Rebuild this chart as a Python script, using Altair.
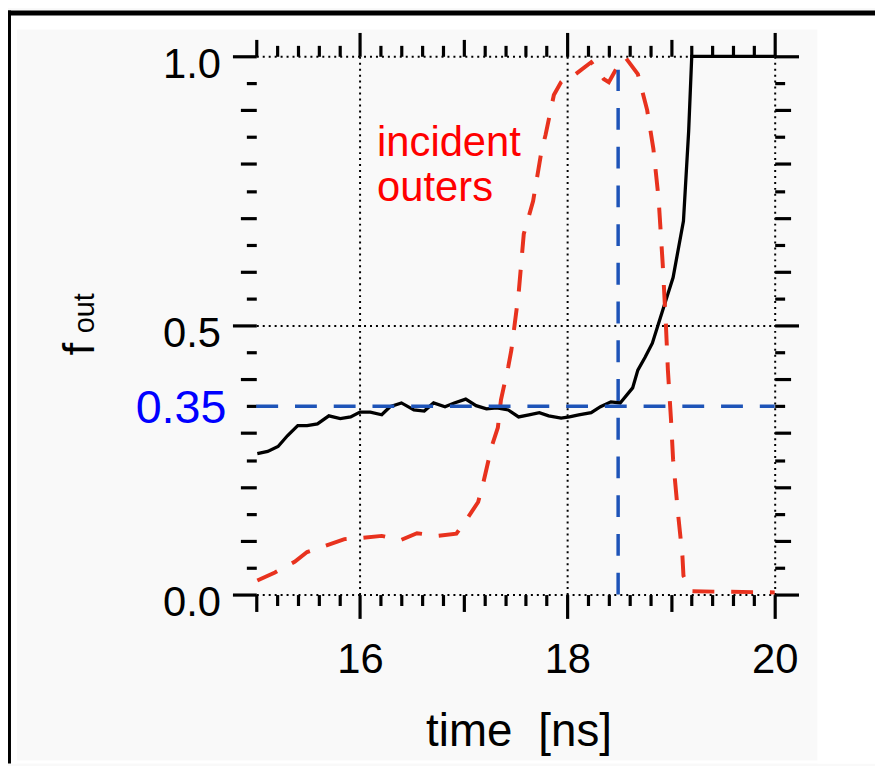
import altair as alt
import pandas as pd

# ---------------- data ----------------
black_t = [15.01, 15.11, 15.21, 15.30, 15.40, 15.49, 15.59, 15.70, 15.81, 15.91,
           16.00, 16.10, 16.21, 16.29, 16.40, 16.52, 16.62, 16.71, 16.82, 16.91,
           17.02, 17.12, 17.22, 17.32, 17.43, 17.53, 17.63, 17.73, 17.82, 17.94,
           18.02, 18.11, 18.23, 18.32, 18.42, 18.51, 18.63, 18.68, 18.75, 18.82,
           18.92, 19.02, 19.12, 19.17, 19.20, 20.00]
black_f = [0.262, 0.266, 0.275, 0.295, 0.314, 0.314, 0.317, 0.332, 0.327, 0.330,
           0.339, 0.339, 0.334, 0.349, 0.356, 0.343, 0.341, 0.356, 0.349, 0.356,
           0.363, 0.351, 0.345, 0.347, 0.343, 0.330, 0.334, 0.338, 0.332, 0.328,
           0.330, 0.334, 0.338, 0.349, 0.358, 0.356, 0.384, 0.417, 0.441, 0.467,
           0.528, 0.589, 0.694, 0.860, 1.000, 1.000]

red_t = [15.01, 15.18, 15.37, 15.49, 15.66, 15.85, 16.00, 16.21, 16.39, 16.55,
         16.74, 16.93, 17.03, 17.14, 17.19, 17.27, 17.33, 17.36, 17.43, 17.46,
         17.53, 17.58, 17.67, 17.75, 17.79, 17.87, 17.94, 18.02, 18.08, 18.23,
         18.35, 18.40, 18.47, 18.56, 18.68, 18.77, 18.83, 18.88, 18.92, 18.95,
         18.97, 19.00, 19.02, 19.07, 19.11, 19.12, 19.20, 20.00]
red_f = [0.026, 0.041, 0.061, 0.079, 0.090, 0.103, 0.105, 0.109, 0.101, 0.114,
         0.109, 0.113, 0.140, 0.172, 0.208, 0.275, 0.310, 0.362, 0.423, 0.454,
         0.559, 0.670, 0.731, 0.823, 0.854, 0.928, 0.952, 0.965, 0.967, 0.989,
         0.958, 0.952, 0.976, 0.998, 0.967, 0.900, 0.828, 0.736, 0.614, 0.504,
         0.417, 0.325, 0.251, 0.146, 0.072, 0.035, 0.006, 0.004]

threshold_f = 0.35
threshold_t = 18.49
threshold_top = 0.975
threshold_label = ["0.35"]

label_t = [16.165, 16.165]
label_f = [0.814, 0.731]
label_text = ["incident", "outers"]

x_ticks = [15.0, 15.2, 15.4, 15.6, 15.8, 16.0, 16.2, 16.4, 16.6, 16.8,
           17.0, 17.2, 17.4, 17.6, 17.8, 18.0, 18.2, 18.4, 18.6, 18.8,
           19.0, 19.2, 19.4, 19.6, 19.8, 20.0]
y_ticks = [0.0, 0.05, 0.1, 0.15, 0.2, 0.25, 0.3, 0.35, 0.4, 0.45, 0.5,
           0.55, 0.6, 0.65, 0.7, 0.75, 0.8, 0.85, 0.9, 0.95, 1.0]

# ---------------- styling / layout ----------------
FONT = "Liberation Sans"
W, H = 522, 542
PAD = {"left": 250, "top": 46, "right": 101, "bottom": 170}
PANEL = "#f9f9f9"
RED = "#e8321e"
BLUE = "#1e54b8"

xs = alt.Scale(domain=[15, 20], nice=False, zero=False)
ys = alt.Scale(domain=[0, 1], nice=False, zero=False)

X_MAJ = "round(datum.value*10) % 20 == 0"
X_MID = "round(datum.value*10) % 10 == 0"
Y_MAJ = "round(datum.value*100) % 50 == 0"
Y_MID = "round(datum.value*100) % 10 == 0"


def xaxis(orient, main):
    kw = dict(orient=orient, values=x_ticks, domain=False, title=None,
              tickColor="black", tickWidth=3.2,
              tickSize={"condition": [{"test": X_MAJ, "value": 24},
                                      {"test": X_MID, "value": 17}],
                        "value": 11})
    if main:
        kw.update(grid=True, gridColor="black", gridWidth=2, gridDash=[2, 4],
                  gridOpacity={"condition": {"test": X_MAJ, "value": 1}, "value": 0},
                  labels=True,
                  labelExpr=X_MAJ + " ? format(datum.value, 'd') : ''",
                  labelFont=FONT, labelFontSize=42, labelColor="black",
                  labelPadding=21, labelFlush=False, labelOverlap=False)
    else:
        kw.update(grid=False, labels=False)
    return alt.Axis(**kw)


def yaxis(orient, main):
    kw = dict(orient=orient, values=y_ticks, domain=False, title=None,
              tickColor="black", tickWidth=3.2,
              tickSize={"condition": [{"test": Y_MAJ, "value": 24},
                                      {"test": Y_MID, "value": 16}],
                        "value": 10})
    if main:
        kw.update(grid=True, gridColor="black", gridWidth=2, gridDash=[2, 4],
                  gridOpacity={"condition": {"test": Y_MAJ, "value": 1}, "value": 0},
                  labels=True,
                  labelExpr=Y_MAJ + " ? format(datum.value, '.1f') : ''",
                  labelFont=FONT, labelFontSize=42, labelColor="black",
                  labelPadding=12, labelOffset=8, labelBaseline="middle",
                  labelFlush=False, labelOverlap=False)
    else:
        kw.update(grid=False, labels=False)
    return alt.Axis(**kw)


one = pd.DataFrame({"d": [0]})


def rect(x1, x2, y1, y2, color):
    return alt.Chart(one).mark_rect(color=color, strokeWidth=0).encode(
        x=alt.value(x1), x2=alt.value(x2), y=alt.value(y1), y2=alt.value(y2))


def ptext(txt, x, y, size, color="black", angle=0):
    return alt.Chart(one).mark_text(
        text=txt, font=FONT, fontSize=size, color=color, align="left",
        baseline="alphabetic", angle=angle).encode(x=alt.value(x), y=alt.value(y))


df_black = pd.DataFrame({"t": black_t, "f": black_f})
df_red = pd.DataFrame({"t": red_t, "f": red_f})
df_h = pd.DataFrame({"t": [x_ticks[0]], "t2": [x_ticks[-1]], "f": [threshold_f]})
df_v = pd.DataFrame({"t": [threshold_t], "f": [0.0], "f2": [threshold_top]})
df_thr_label = pd.DataFrame({"f": [threshold_f], "txt": threshold_label})
df_labels = pd.DataFrame({"t": label_t, "f": label_f, "txt": label_text})

hline = alt.Chart(df_h).mark_rule(color=BLUE, strokeWidth=3.5, strokeDash=[22, 17]).encode(
    x=alt.X("t:Q", scale=xs, axis=None), x2="t2:Q",
    y=alt.Y("f:Q", scale=ys, axis=None))
vline = alt.Chart(df_v).mark_rule(color=BLUE, strokeWidth=3.5, strokeDash=[22, 17]).encode(
    x=alt.X("t:Q", scale=xs, axis=None),
    y=alt.Y("f:Q", scale=ys, axis=None), y2="f2:Q")

black = alt.Chart(df_black).mark_line(color="black", strokeWidth=3.3).encode(
    x=alt.X("t:Q", scale=xs, axis=xaxis("bottom", True)),
    y=alt.Y("f:Q", scale=ys, axis=yaxis("left", True)))

red = alt.Chart(df_red).mark_line(color=RED, strokeWidth=4, strokeDash=[22, 17]).encode(
    x=alt.X("t:Q", scale=xs, axis=xaxis("top", False)),
    y=alt.Y("f:Q", scale=ys, axis=yaxis("right", False)))

thr_label = alt.Chart(df_thr_label).mark_text(
    font=FONT, fontSize=47, color="#0000ff", align="right", baseline="middle", dy=3
).encode(x=alt.value(-30), y=alt.Y("f:Q", scale=ys, axis=None), text="txt:N")

red_labels = alt.Chart(df_labels).mark_text(
    font=FONT, fontSize=42, color="#ff0000", align="left", baseline="alphabetic"
).encode(x=alt.X("t:Q", scale=xs, axis=None), y=alt.Y("f:Q", scale=ys, axis=None),
         text="txt:N")

SVG_W = PAD["left"] + W + PAD["right"]
SVG_H = PAD["top"] + H + PAD["bottom"]
L, T = -PAD["left"], -PAD["top"]
R, B = SVG_W - PAD["left"], SVG_H - PAD["top"]

decor = [
    rect(L, L + 9, T, B, "white"),              # left margin
    rect(815 - PAD["left"], R, T, B, "white"),  # right margin
    rect(L, R, T, T + 19, "white"),             # top margin
    rect(L, R, 755 - PAD["top"], B, "white"),   # bottom margin
    rect(L, R, T, T + 5, "black"),              # top frame bar
    rect(L, L + 3, T, B, "black"),              # left frame line
]

texts = [
    ptext("f", -163, 301, 45, angle=270),
    ptext("out", -163, 279, 29, angle=270),
    ptext("time", 171, 694, 46),
    ptext("[ns]", 284, 694, 46),
]

chart = alt.layer(
    black, red, hline, vline, thr_label, red_labels, *decor, *texts
).resolve_axis(x="independent", y="independent").properties(
    width=W, height=H, padding=PAD,
    autosize=alt.AutoSizeParams(type="none"),
    background=PANEL,
).configure_view(stroke=None)

chart.save("out.html", embed_options={"renderer": "svg", "actions": False})
